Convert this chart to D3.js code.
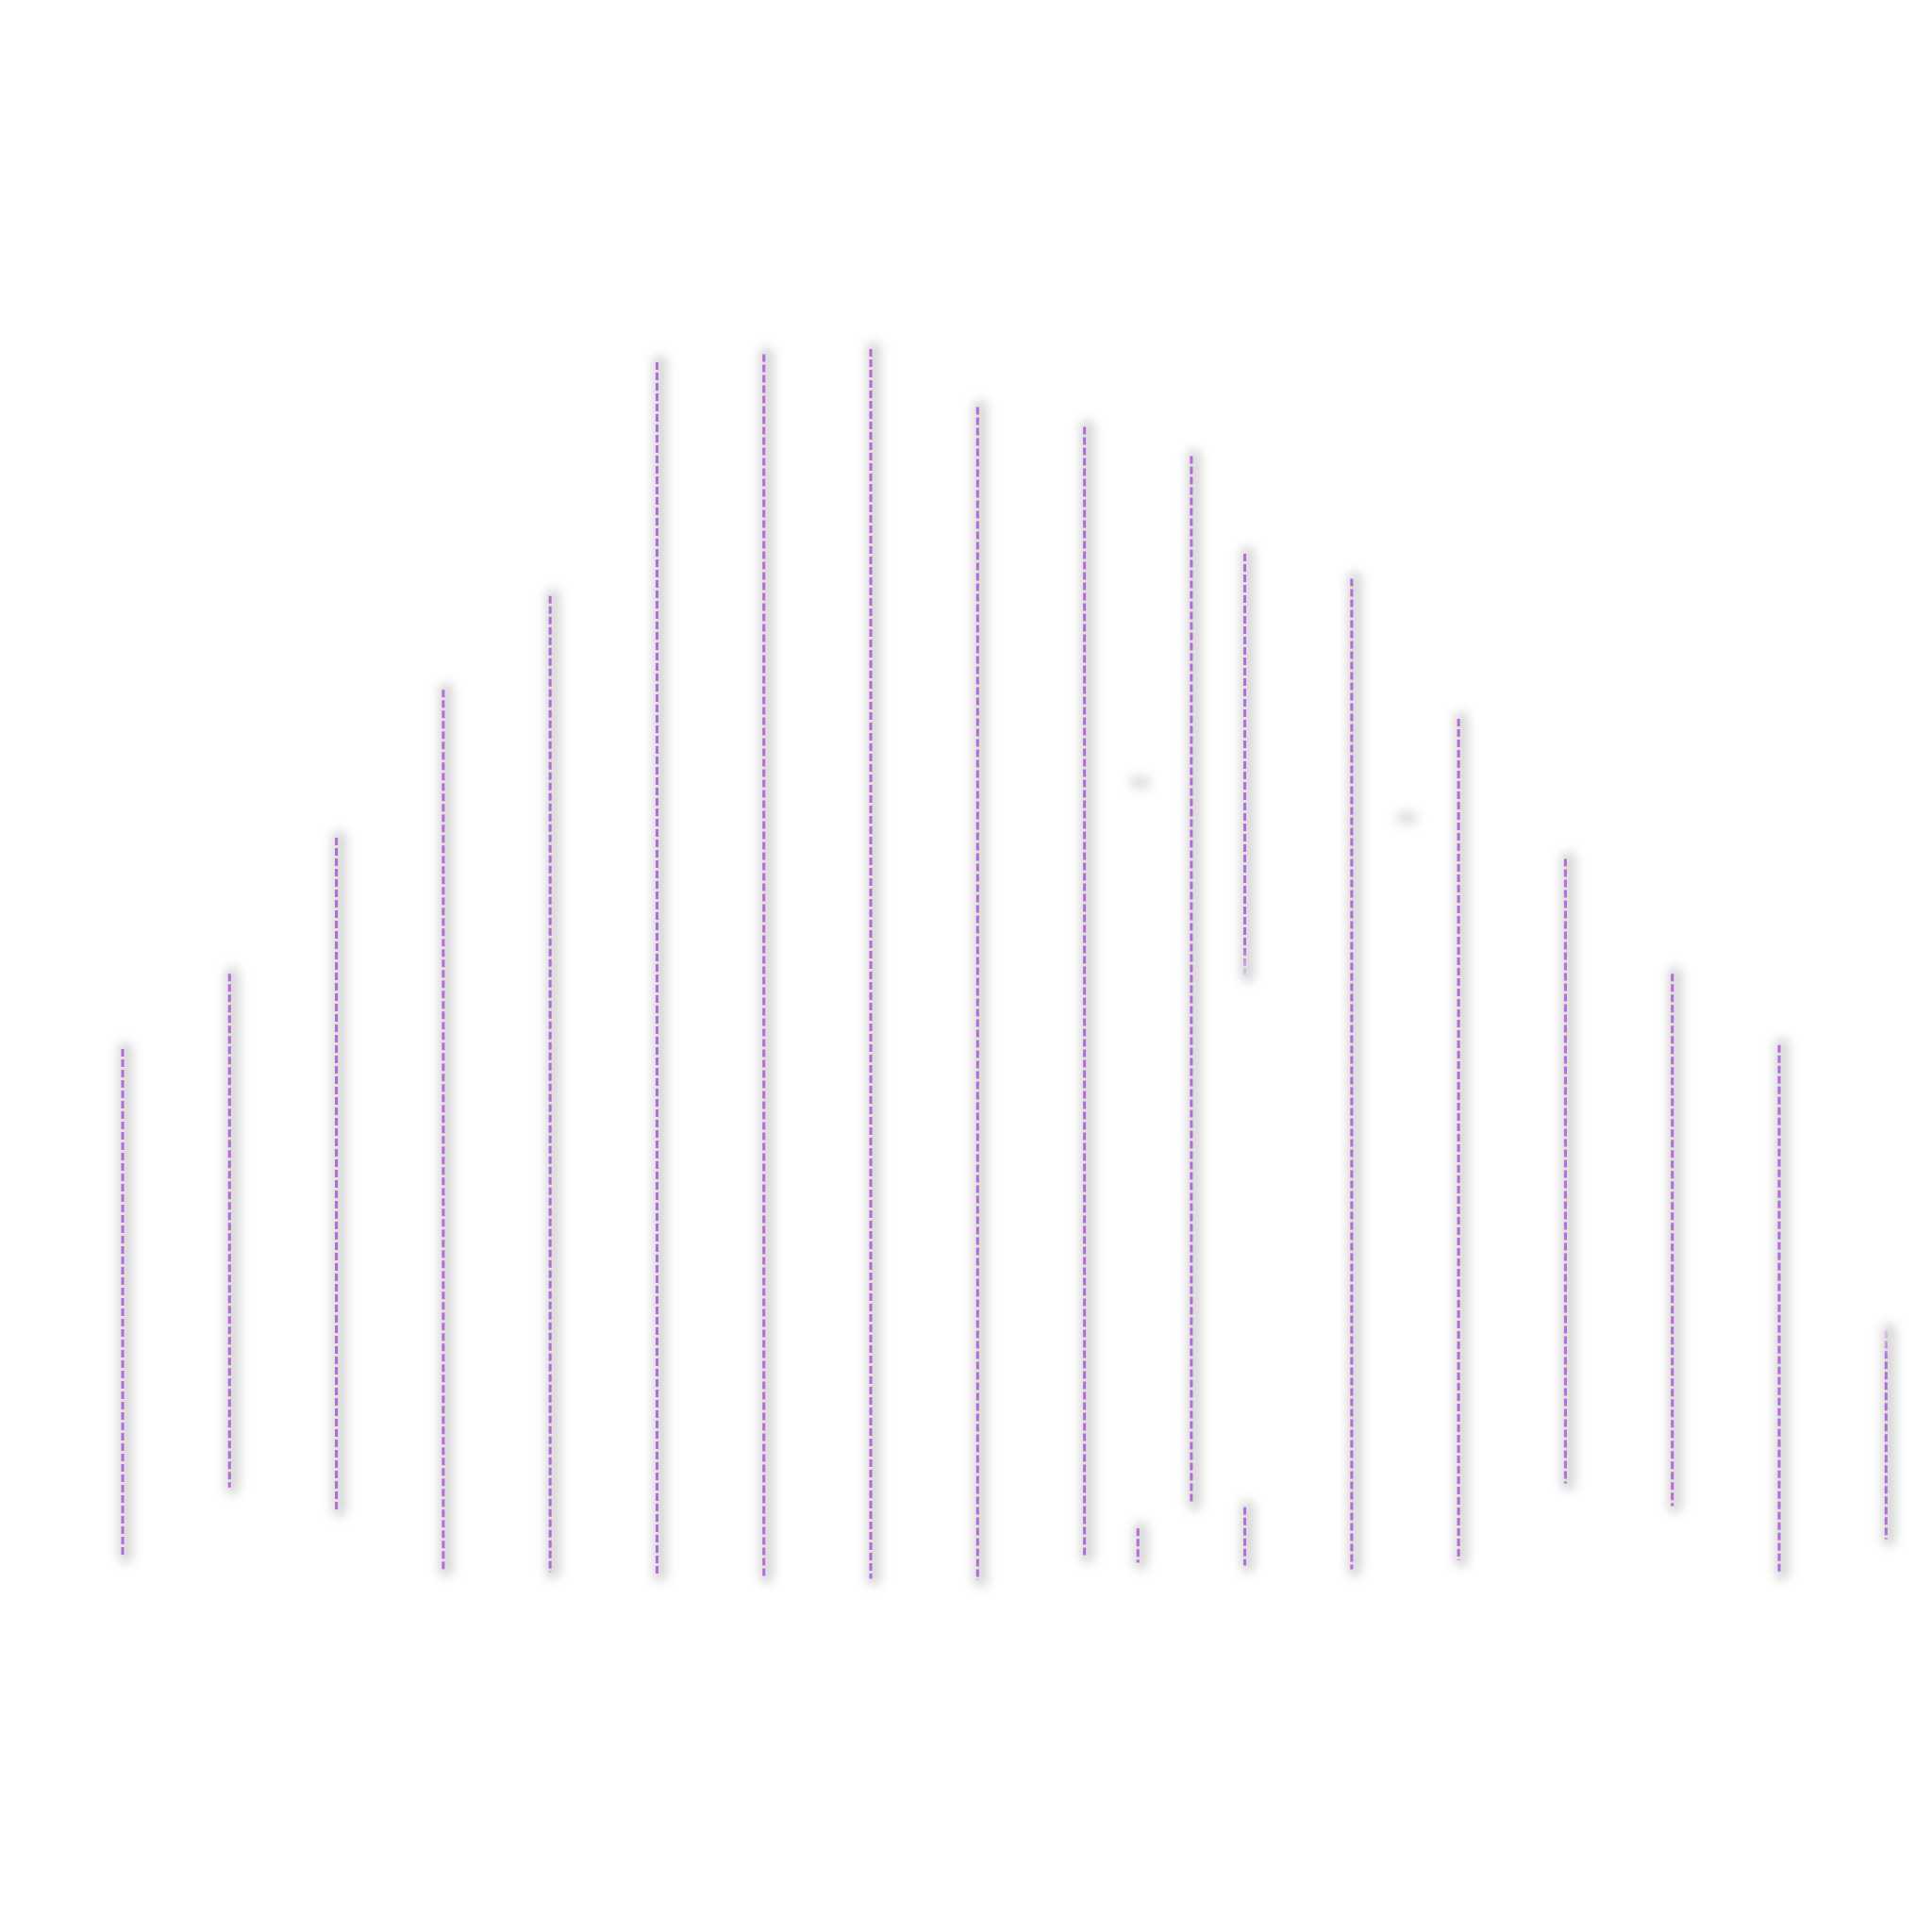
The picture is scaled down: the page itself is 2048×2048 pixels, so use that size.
<!DOCTYPE html>
<html>
<head>
<meta charset="utf-8">
<script src="https://cdn.jsdelivr.net/npm/d3@7/dist/d3.min.js"></script>
<style>
  html, body { margin: 0; padding: 0; background: #ffffff; }
  svg { display: block; }
</style>
</head>
<body>
<script>
// ---- data ----
const positions = [0, 1, 2, 3, 4, 5, 6, 7, 8, 9, 9.5, 10, 10.5, 10.5, 11.5, 12.5, 13.5, 14.5, 15.5, 16.5];
const highs     = [42.0, 47.7, 58.0, 69.2, 76.3, 94.0, 94.6, 95.0, 90.6, 89.1, 5.7, 86.9, 79.5, 7.3, 77.6, 67.0, 56.4, 47.7, 42.3, 20.7];
const lows      = [3.6, 8.8, 7.1, 2.6, 2.4, 2.2, 2.1, 1.9, 1.8, 3.6, 3.1, 7.6, 47.6, 2.9, 2.6, 3.3, 9.1, 7.4, 2.3, 4.9];
// fade: 0 = none, 1 = fades toward the low end, 2 = fades toward the high end
const fades     = [0, 0, 0, 0, 0, 0, 0, 0, 0, 0, 0, 0, 1, 0, 0, 0, 0, 0, 0, 2];
// zero-length entries (only their shadow is visible)
const pointPositions = [9.5, 12];
const pointValues    = [62.2, 59.5];

const W = 2048, H = 2048;
const LINE = "#b26cd6";
const x = d3.scaleLinear().domain([0, 16.5]).range([130, 1999.3]);
const y = d3.scaleLinear().domain([0, 100]).range([1700, 300]);

const svg = d3.select("body").append("svg")
  .attr("width", W).attr("height", H)
  .attr("viewBox", `0 0 ${W} ${H}`);

svg.append("rect").attr("width", W).attr("height", H).attr("fill", "#ffffff");

const defs = svg.append("defs");
const f = defs.append("filter").attr("id", "soft")
  .attr("filterUnits", "userSpaceOnUse")
  .attr("x", 0).attr("y", 0).attr("width", W).attr("height", H);
f.append("feGaussianBlur").attr("stdDeviation", 5.5);

const data = positions.map((p, i) => ({ p, hi: highs[i], lo: lows[i], fade: fades[i], i }));

// gradients for fading segments
data.filter(d => d.fade).forEach(d => {
  const g = defs.append("linearGradient").attr("id", "fade" + d.i)
    .attr("gradientUnits", "userSpaceOnUse")
    .attr("x1", 0).attr("x2", 0)
    .attr("y1", y(d.hi)).attr("y2", y(d.lo));
  const len = y(d.lo) - y(d.hi);
  const fl = 30 / len;
  if (d.fade === 1) {
    g.append("stop").attr("offset", 0).attr("stop-color", LINE).attr("stop-opacity", 1);
    g.append("stop").attr("offset", 1 - fl).attr("stop-color", LINE).attr("stop-opacity", 1);
    g.append("stop").attr("offset", 1).attr("stop-color", LINE).attr("stop-opacity", 0.2);
  } else {
    g.append("stop").attr("offset", 0).attr("stop-color", LINE).attr("stop-opacity", 0.2);
    g.append("stop").attr("offset", fl).attr("stop-color", LINE).attr("stop-opacity", 1);
    g.append("stop").attr("offset", 1).attr("stop-color", LINE).attr("stop-opacity", 1);
  }
});

// shadows
svg.append("g").attr("class", "shadows")
  .selectAll("line").data(data).join("line")
  .attr("x1", d => x(d.p) + 3).attr("x2", d => x(d.p) + 3)
  .attr("y1", d => y(d.hi)).attr("y2", d => y(d.lo))
  .attr("stroke", "#000").attr("stroke-opacity", 0.15)
  .attr("stroke-width", 16).attr("stroke-linecap", "round")
  .attr("filter", "url(#soft)");

svg.append("g").attr("class", "point-shadows")
  .selectAll("ellipse").data(pointPositions).join("ellipse")
  .attr("cx", (d) => x(d) + 2)
  .attr("cy", (d, i) => y(pointValues[i]))
  .attr("rx", 12).attr("ry", 8)
  .attr("fill", "#000").attr("fill-opacity", 0.12)
  .attr("filter", "url(#soft)");

// dashed range lines
svg.append("g").attr("class", "ranges")
  .selectAll("line").data(data).join("line")
  .attr("x1", d => x(d.p)).attr("x2", d => x(d.p))
  .attr("y1", d => y(d.hi)).attr("y2", d => y(d.lo))
  .attr("stroke", d => d.fade ? `url(#fade${d.i})` : LINE)
  .attr("stroke-width", 3)
  .attr("stroke-dasharray", "8,3");
</script>
</body>
</html>
